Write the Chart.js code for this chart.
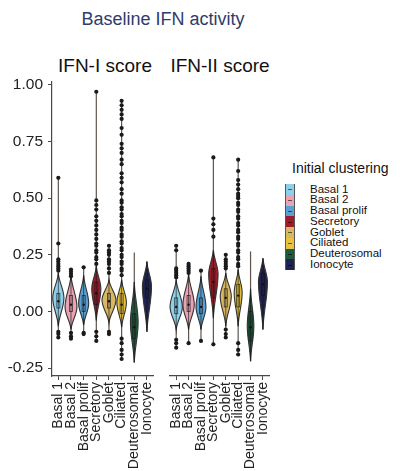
<!DOCTYPE html>
<html>
<head>
<meta charset="utf-8">
<script src="https://cdn.jsdelivr.net/npm/chart.js@4.4.0/dist/chart.umd.min.js"></script>
<style>
    body { margin: 0; background: #fff; width: 400px; height: 471px; position: relative; overflow: hidden; font-family: "Liberation Sans", Arial, sans-serif; }
    canvas { position: absolute; top: 0; }
    #chart1 { left: 0; }
    #chart2 { left: 166px; }
    .txt { position: absolute; white-space: nowrap; }
    #mainTitle { left: 0; width: 326px; top: 10px; text-align: center; font-size: 18px; line-height: 18px; color: #2d3c6a; }
    .panelTitle { top: 56px; font-size: 19px; line-height: 19px; color: #111; width: 140px; text-align: center; }
    #legendTitle { left: 292px; top: 161px; font-size: 14px; line-height: 14px; color: #111; }
    .key { position: absolute; left: 285px; width: 10px; box-sizing: border-box; border-left: 1px solid #555; border-right: 1px solid #555; }
    .key span { position: absolute; left: 2px; right: 2px; top: 50%; height: 1px; background: rgba(0,0,0,0.55); }
    .legendItem { left: 310px; font-size: 11.5px; line-height: 10.75px; color: #111; }
</style>
</head>
<body>
<div id="mainTitle" class="txt">Baseline IFN activity</div>
<div class="txt panelTitle" style="left:35px">IFN-I score</div>
<div class="txt panelTitle" style="left:150px">IFN-II score</div>
<div id="legendTitle" class="txt">Initial clustering</div>
<div id="legend"></div>
<canvas id="chart1" width="166" height="471"></canvas>
<canvas id="chart2" width="116" height="471"></canvas>
<script>
const categories = ['Basal 1', 'Basal 2', 'Basal prolif', 'Secretory', 'Goblet', 'Ciliated', 'Deuterosomal', 'Ionocyte'];
const cellColors = ['#8ed0ea', '#e9a3b3', '#5aa0d4', '#9e1b2a', '#d8b765', '#e7c33f', '#1e5b3c', '#1e2352'];
const yTicks = [-0.25, 0, 0.25, 0.5, 0.75, 1.0];

// IFN-I score
const ifn1BodyHi = [0.17, 0.16, 0.16, 0.20, 0.14, 0.14, 0.13, 0.22];
const ifn1BodyLo = [-0.065, -0.08, -0.06, -0.04, -0.05, -0.07, -0.225, -0.09];
const ifn1Peak = [0.06, 0.02, 0.035, 0.10, 0.05, 0.04, -0.05, 0.11];
const ifn1Density = [0.8, 0.85, 0.72, 0.65, 1.0, 0.68, 0.55, 0.65];
const ifn1Median = [0.045, 0.03, 0.03, 0.08, 0.045, 0.03, -0.07, 0.10];
const ifn1Q1 = [0.015, 0.0, 0.0, 0.03, 0.015, -0.01, -0.12, 0.06];
const ifn1Q3 = [0.08, 0.07, 0.07, 0.13, 0.08, 0.08, -0.01, 0.14];
const ifn1Max = [0.59, 0.185, 0.195, 0.97, 0.29, 0.93, 0.26, 0.22];
const ifn1Min = [-0.115, -0.12, -0.10, -0.13, -0.10, -0.21, -0.225, -0.09];
const ifn1Outliers = [
    [0.59, 0.30, 0.23, 0.22, 0.21, 0.20, 0.19, 0.18, -0.09, -0.10, -0.115],
    [0.185, 0.175, 0.165, 0.155, -0.095, -0.11, -0.12],
    [0.195, -0.095, -0.10],
    [0.97, 0.49, 0.47, 0.45, 0.42, 0.40, 0.38, 0.36, 0.34, 0.32, 0.30, 0.29, 0.27, 0.26, 0.24, 0.23, 0.21, -0.09, -0.11, -0.13],
    [0.29, 0.27, 0.26, 0.25, 0.23, 0.22, 0.21, 0.19, 0.17, -0.09, -0.10],
    [0.93, 0.91, 0.89, 0.87, 0.85, 0.81, 0.78, 0.74, 0.72, 0.70, 0.67, 0.65, 0.61, 0.59, 0.57, 0.54, 0.52,
     0.49, 0.48, 0.46, 0.45, 0.43, 0.42, 0.40, 0.39, 0.37, 0.36, 0.34, 0.33, 0.31, 0.30, 0.28, 0.27,
     0.25, 0.24, 0.22, 0.21, 0.19, 0.18, 0.16, -0.12, -0.14, -0.17, -0.19, -0.21],
    [],
    []
];

// IFN-II score
const ifn2BodyHi = [0.14, 0.165, 0.155, 0.27, 0.17, 0.185, 0.10, 0.235];
const ifn2BodyLo = [-0.08, -0.08, -0.08, -0.03, -0.065, -0.065, -0.22, -0.08];
const ifn2Peak = [0.02, 0.03, 0.02, 0.165, 0.067, 0.083, -0.065, 0.13];
const ifn2Density = [0.88, 0.81, 0.71, 0.67, 0.79, 0.57, 0.47, 0.64];
const ifn2Median = [0.02, 0.03, 0.02, 0.13, 0.06, 0.07, -0.07, 0.12];
const ifn2Q1 = [-0.01, 0.0, -0.01, 0.06, 0.02, 0.02, -0.13, 0.07];
const ifn2Q3 = [0.06, 0.07, 0.06, 0.19, 0.10, 0.12, 0.0, 0.17];
const ifn2Max = [0.29, 0.21, 0.18, 0.68, 0.25, 0.67, 0.265, 0.235];
const ifn2Min = [-0.16, -0.14, -0.13, -0.145, -0.115, -0.19, -0.22, -0.08];
const ifn2Outliers = [
    [0.29, 0.27, 0.19, 0.18, 0.17, 0.16, 0.15, -0.125, -0.14, -0.16],
    [0.21, 0.20, 0.19, 0.18, 0.17, -0.14],
    [0.18, -0.13],
    [0.68, 0.41, 0.385, 0.36, 0.33, -0.145],
    [0.25, 0.23, 0.22, 0.21, 0.20, 0.19, -0.08, -0.10, -0.115],
    [0.67, 0.62, 0.58, 0.56, 0.54, 0.52, 0.51, 0.50, 0.48, 0.47, 0.45, 0.44, 0.42, 0.41, 0.39, 0.38,
     0.36, 0.35, 0.33, 0.32, 0.30, 0.29, 0.27, 0.26, 0.24, 0.23, 0.21, 0.20, -0.14, -0.17, -0.19],
    [],
    []
];

const MAX_HALF = 7;
const AXIS_COLOR = '#4d4844';

// legend (HTML, real text)
const legend = document.getElementById('legend');
categories.forEach((name, i) => {
    const top = 184 + i * 10.75;
    const key = document.createElement('div');
    key.className = 'key';
    key.style.top = top + 'px';
    key.style.height = '10.75px';
    key.style.background = cellColors[i];
    key.innerHTML = '<span></span>';
    legend.appendChild(key);
    const label = document.createElement('div');
    label.className = 'txt legendItem';
    label.style.top = (top - 0.5) + 'px';
    label.textContent = name;
    legend.appendChild(label);
});

function violinPlugin(p) {
    return {
        id: 'violins',
        beforeDatasetsDraw(chart) {
            const ctx = chart.ctx;
            const xs = chart.scales.x;
            const ys = chart.scales.y;
            ctx.save();
            categories.forEach((c, i) => {
                const cx = xs.getPixelForValue(i);
                // thin tail through the whole range
                ctx.strokeStyle = '#5e534b';
                ctx.lineWidth = 1.2;
                ctx.beginPath();
                ctx.moveTo(cx, ys.getPixelForValue(p.max[i]));
                ctx.lineTo(cx, ys.getPixelForValue(p.min[i]));
                ctx.stroke();

                // violin body
                const yHi = ys.getPixelForValue(p.hi[i]);
                const yLo = ys.getPixelForValue(p.lo[i]);
                const yPk = ys.getPixelForValue(p.peak[i]);
                const w = p.density[i] * MAX_HALF;
                const up = yPk - yHi, dn = yLo - yPk;
                ctx.beginPath();
                ctx.moveTo(cx, yHi);
                ctx.bezierCurveTo(cx + w * 0.15, yHi + up * 0.4, cx + w, yPk - up * 0.35, cx + w, yPk);
                ctx.bezierCurveTo(cx + w, yPk + dn * 0.35, cx + w * 0.15, yLo - dn * 0.4, cx, yLo);
                ctx.bezierCurveTo(cx - w * 0.15, yLo - dn * 0.4, cx - w, yPk + dn * 0.35, cx - w, yPk);
                ctx.bezierCurveTo(cx - w, yPk - up * 0.35, cx - w * 0.15, yHi + up * 0.4, cx, yHi);
                ctx.closePath();
                ctx.fillStyle = cellColors[i];
                ctx.fill();
                ctx.strokeStyle = '#333';
                ctx.lineWidth = 1.1;
                ctx.stroke();

                // inner box
                const yQ1 = ys.getPixelForValue(p.q1[i]);
                const yQ3 = ys.getPixelForValue(p.q3[i]);
                ctx.strokeStyle = 'rgba(20,20,20,0.8)';
                ctx.lineWidth = 0.8;
                ctx.strokeRect(cx - 1.5, yQ3, 3, yQ1 - yQ3);
                ctx.beginPath();
                ctx.moveTo(cx, yHi);
                ctx.lineTo(cx, yLo);
                ctx.stroke();
            });
            ctx.restore();
        }
    };
}

function makePanel(canvasId, p, showY, padLeft) {
    const points = [];
    p.outliers.forEach((list, i) => list.forEach(v => points.push({ x: categories[i], y: v })));

    return new Chart(document.getElementById(canvasId), {
        type: 'line',
        data: {
            labels: categories,
            datasets: [
                {
                    label: 'outliers',
                    data: points,
                    showLine: false,
                    pointRadius: 2.1,
                    pointBackgroundColor: '#1a1a1a',
                    pointBorderWidth: 0
                },
                {
                    label: 'median',
                    data: p.median,
                    showLine: false,
                    pointRadius: 1.2,
                    pointBackgroundColor: '#111',
                    pointBorderWidth: 0
                }
            ]
        },
        options: {
            responsive: false,
            animation: false,
            layout: { padding: { top: 82, bottom: 0, left: padLeft, right: 3 } },
            plugins: {
                legend: { display: false },
                title: { display: false },
                tooltip: { enabled: false }
            },
            scales: {
                x: {
                    type: 'category',
                    offset: true,
                    afterFit: scale => { scale.height = 95; },
                    border: { display: true, color: AXIS_COLOR, width: 1.2 },
                    grid: { drawOnChartArea: false, tickLength: 4, color: AXIS_COLOR, offset: false },
                    ticks: {
                        autoSkip: false,
                        minRotation: 90,
                        maxRotation: 90,
                        padding: 2,
                        color: '#222',
                        font: { family: 'Liberation Sans', size: 14 }
                    }
                },
                y: {
                    display: showY,
                    min: -0.285,
                    max: 1.013,
                    afterBuildTicks: scale => { scale.ticks = yTicks.map(v => ({ value: v })); },
                    afterFit: scale => { if (showY) scale.width = 52; },
                    border: { display: true, color: AXIS_COLOR, width: 1.2 },
                    grid: { drawOnChartArea: false, tickLength: 4, color: AXIS_COLOR },
                    ticks: {
                        padding: 5,
                        color: '#222',
                        callback: v => Number(v).toFixed(2),
                        font: { family: 'Liberation Sans', size: 15.5 }
                    }
                }
            }
        },
        plugins: [violinPlugin(p)]
    });
}

makePanel('chart1', {
    hi: ifn1BodyHi, lo: ifn1BodyLo, peak: ifn1Peak, density: ifn1Density,
    median: ifn1Median, q1: ifn1Q1, q3: ifn1Q3, max: ifn1Max, min: ifn1Min, outliers: ifn1Outliers
}, true, 0);

makePanel('chart2', {
    hi: ifn2BodyHi, lo: ifn2BodyLo, peak: ifn2Peak, density: ifn2Density,
    median: ifn2Median, q1: ifn2Q1, q3: ifn2Q3, max: ifn2Max, min: ifn2Min, outliers: ifn2Outliers
}, false, 3);
</script>
</body>
</html>
